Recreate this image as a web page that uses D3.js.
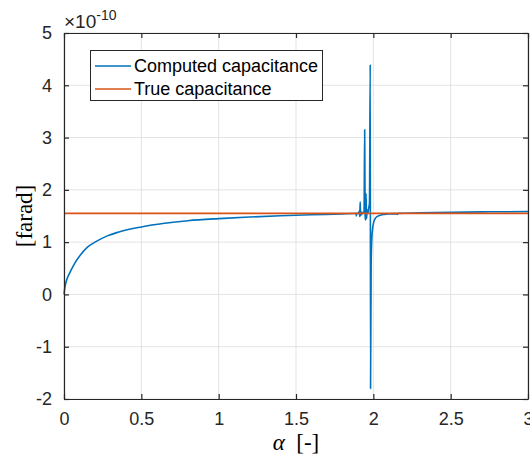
<!DOCTYPE html>
<html><head><meta charset="utf-8">
<script src="https://cdn.jsdelivr.net/npm/d3@7"></script>
<style>
html,body{margin:0;padding:0;background:#fff;}
svg{display:block;font-family:"Liberation Sans",Arial,sans-serif;}
</style></head>
<body><svg id="c" width="530" height="457"></svg>
<script>
// ---- data (values in units of 1e-10 farad) ----
const computedAlpha = [0, 0.005, 0.01, 0.02, 0.04, 0.07, 0.1, 0.15, 0.2, 0.28, 0.35, 0.5, 0.65, 0.8, 1.0, 1.2, 1.4, 1.6, 1.8, 1.88,
  1.888, 1.890, 1.892, 1.905, 1.910, 1.912, 1.915, 1.918, 1.921, 1.925, 1.930, 1.940, 1.944, 1.947, 1.950, 1.953, 1.956, 1.960,
  1.965, 1.970, 1.975, 1.980, 1.982, 1.986, 1.990, 1.995, 2.000, 2.01, 2.02, 2.04, 2.07, 2.1, 2.15, 2.155, 2.16, 2.3, 2.5, 2.75, 3.0];
const computedValue = [0, 0.12, 0.2, 0.3, 0.43, 0.6, 0.73, 0.9, 1.0, 1.12, 1.19, 1.29, 1.36, 1.41, 1.45, 1.48, 1.505, 1.525, 1.54, 1.548,
  1.546, 1.50, 1.552, 1.55, 1.60, 1.49, 1.77, 1.50, 1.58, 1.53, 1.56, 1.58, 3.15, 1.50, 1.42, 1.93, 1.45, 1.62,
  1.55, 1.65, 1.75, 4.40, -1.80, 0.60, 1.05, 1.25, 1.35, 1.44, 1.48, 1.51, 1.53, 1.54, 1.545, 1.53, 1.55, 1.56, 1.57, 1.58, 1.585];
const trueAlpha = [0, 3];
const trueValue = [1.55, 1.55];
const xTicks = [0, 0.5, 1, 1.5, 2, 2.5, 3];
const yTicks = [-2, -1, 0, 1, 2, 3, 4, 5];
const seriesNames = ["Computed capacitance", "True capacitance"];
const seriesColors = ["#0072BD", "#D95319"];

const svg = d3.select("#c");
const L = 64, R = 528, T = 33, B = 399;
const x = d3.scaleLinear().domain([0, 3]).range([L, R]);
const y = d3.scaleLinear().domain([-2, 5]).range([B, T]);
const axisCol = "#262626";

// grid
const g = svg.append("g");
g.selectAll(".vg").data(xTicks).join("line")
  .attr("x1", d => x(d)).attr("x2", d => x(d)).attr("y1", T).attr("y2", B)
  .attr("stroke", "#e3e3e3").attr("stroke-width", 1);
g.selectAll(".hg").data(yTicks).join("line")
  .attr("x1", L).attr("x2", R).attr("y1", d => y(d)).attr("y2", d => y(d))
  .attr("stroke", "#e3e3e3").attr("stroke-width", 1);

// lines
const line = d3.line().x(d => x(d[0])).y(d => y(d[1])).curve(d3.curveMonotoneX);
svg.append("path").datum(d3.zip(computedAlpha, computedValue))
  .attr("d", line).attr("fill", "none").attr("stroke", seriesColors[0]).attr("stroke-width", 1.6);
svg.append("path").datum(d3.zip(trueAlpha, trueValue))
  .attr("d", line).attr("fill", "none").attr("stroke", seriesColors[1]).attr("stroke-width", 1.6);

// axes (ticks inward, all four sides)
const fmt = d => String(d);
const ax = svg.append("g").attr("transform", `translate(0,${B})`)
  .call(d3.axisBottom(x).tickValues(xTicks).tickSizeInner(-5).tickSizeOuter(0).tickPadding(13).tickFormat(fmt));
const axT = svg.append("g").attr("transform", `translate(0,${T})`)
  .call(d3.axisTop(x).tickValues(xTicks).tickSizeInner(-5).tickSizeOuter(0).tickFormat(""));
const ay = svg.append("g").attr("transform", `translate(${L},0)`)
  .call(d3.axisLeft(y).tickValues(yTicks).tickSizeInner(-5).tickSizeOuter(0).tickPadding(12).tickFormat(fmt));
const ayR = svg.append("g").attr("transform", `translate(${R},0)`)
  .call(d3.axisRight(y).tickValues(yTicks).tickSizeInner(-5).tickSizeOuter(0).tickFormat(""));
[ax, axT, ay, ayR].forEach(a => {
  a.select(".domain").attr("stroke", axisCol).attr("stroke-width", 1.2);
  a.selectAll(".tick line").attr("stroke", axisCol).attr("stroke-width", 1.2);
  a.selectAll("text").attr("fill", axisCol).attr("font-size", 18)
    .attr("font-family", '"Liberation Sans",Arial,sans-serif');
});
ax.selectAll("text").attr("dy", "0.71em");

// exponent
const ex = svg.append("text").attr("x", 64).attr("y", 28).attr("fill", axisCol)
  .attr("font-size", 19);
ex.append("tspan").text("×10");
ex.append("tspan").attr("font-size", 14).attr("dy", -8).text("-10");

// axis labels
const xl = svg.append("text").attr("x", 296).attr("y", 450).attr("text-anchor", "middle")
  .attr("font-family", '"Liberation Serif","DejaVu Serif",serif').attr("font-size", 23).attr("fill", "#000");
xl.append("tspan").attr("font-style", "italic").text("α");
xl.append("tspan").text("\u2002[-]");
svg.append("text").attr("transform", "translate(32,216) rotate(-90)").attr("text-anchor", "middle")
  .attr("font-family", '"Liberation Serif","DejaVu Serif",serif').attr("font-size", 23).attr("fill", "#000")
  .text("[farad]");

// legend
const lg = svg.append("g");
lg.append("rect").attr("x", 90.5).attr("y", 50.5).attr("width", 232).attr("height", 50)
  .attr("fill", "#fff").attr("stroke", axisCol).attr("stroke-width", 1);
seriesNames.forEach((n, i) => {
  const yy = 66 + i * 23;
  lg.append("line").attr("x1", 95).attr("x2", 131).attr("y1", yy).attr("y2", yy)
    .attr("stroke", seriesColors[i]).attr("stroke-width", 1.6);
  lg.append("text").attr("x", 134).attr("y", yy).attr("dy", "0.35em").attr("font-size", 18)
    .attr("fill", "#000").text(n);
});
</script></body></html>
